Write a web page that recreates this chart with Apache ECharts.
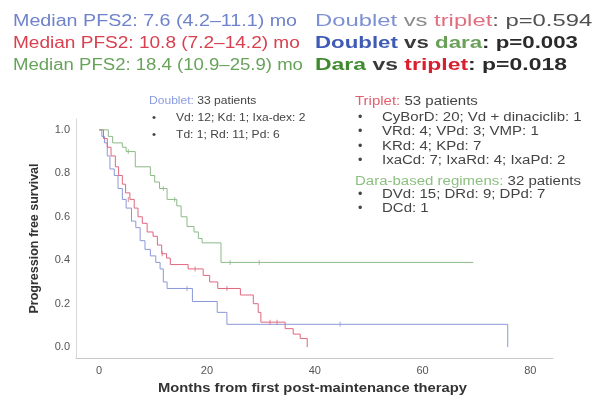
<!DOCTYPE html>
<html><head><meta charset="utf-8">
<script src="https://cdn.jsdelivr.net/npm/echarts@6/dist/echarts.min.js"></script>
<style>html,body{margin:0;padding:0;background:#fff}#c{width:594px;height:396px}</style>
</head><body><div id="c"></div>
<script>
// ---- data ----
const xTicks = [0, 20, 40, 60, 80];
const yTicks = [0, 0.2, 0.4, 0.6, 0.8, 1.0];

const doubletT = [0, 0.5, 1.0, 1.5, 2.0, 2.8, 3.5, 4.3, 5.0, 6.0, 6.8, 7.6, 8.5, 9.5, 10.5, 11.3, 11.9, 12.6, 17.3, 21.9, 23.7, 75.8];
const doubletS = [1.0, 0.97, 0.94, 0.88, 0.82, 0.79, 0.73, 0.68, 0.64, 0.58, 0.55, 0.49, 0.45, 0.42, 0.39, 0.36, 0.30, 0.27, 0.21, 0.16, 0.105, 0.0];
const doubletCensT = [16.3, 44.7];
const doubletCensS = [0.27, 0.105];

const tripletT = [0, 0.8, 1.5, 2.2, 3.0, 3.6, 4.3, 4.9, 5.7, 6.5, 7.2, 8.0, 8.9, 10.0, 10.8, 11.6, 12.5, 13.2, 16.5, 19.3, 20.5, 22.0, 26.2, 28.6, 29.5, 30.0, 34.5, 36.0, 37.3, 38.6];
const tripletS = [1.0, 0.96, 0.92, 0.88, 0.83, 0.79, 0.75, 0.71, 0.68, 0.64, 0.60, 0.57, 0.53, 0.51, 0.47, 0.43, 0.41, 0.38, 0.36, 0.33, 0.30, 0.27, 0.24, 0.20, 0.16, 0.115, 0.085, 0.06, 0.04, 0.0];
const tripletCensT = [5.4, 11.7, 17.8, 23.7, 31.7, 33.0];
const tripletCensS = [0.68, 0.43, 0.36, 0.27, 0.115, 0.115];

const daraT = [0, 1.7, 2.5, 4.3, 5.0, 6.7, 9.5, 10.3, 11.2, 12.6, 14.4, 15.2, 16.3, 17.6, 18.4, 19.1, 22.6, 69.4];
const daraS = [1.0, 0.97, 0.94, 0.92, 0.90, 0.83, 0.79, 0.76, 0.73, 0.68, 0.65, 0.60, 0.555, 0.53, 0.50, 0.48, 0.39, 0.39];
const daraCensT = [5.4, 11.9, 14.0, 24.3, 29.7];
const daraCensS = [0.90, 0.73, 0.68, 0.39, 0.39];

const medianLines = ['Median PFS2: 7.6 (4.2\u201311.1) mo', 'Median PFS2: 10.8 (7.2\u201314.2) mo', 'Median PFS2: 18.4 (10.9\u201325.9) mo'];
const doubletNotes = ['Vd: 12; Kd: 1; Ixa-dex: 2', 'Td: 1; Rd: 11; Pd: 6'];
const tripletNotes = ['CyBorD: 20; Vd + dinaciclib: 1', 'VRd: 4; VPd: 3; VMP: 1', 'KRd: 4; KPd: 7', 'IxaCd: 7; IxaRd: 4; IxaPd: 2'];
const daraNotes = ['DVd: 15; DRd: 9; DPd: 7', 'DCd: 1'];
const xTitle = 'Months from first post-maintenance therapy';
const yTitle = 'Progression free survival';

// ---- styles ----
const BLUE = '#8b98d8', RED = '#e0677e', GREEN = '#8cba88';
const TBLUE = '#6f82cc', TRED = '#d9404f', TGREEN = '#67a35a';
const FONT = 'Liberation Sans';
const zip = (a, b) => a.map((v, i) => [v, b[i]]);

function kmSeries(T, S, color) {
  return { type: 'line', step: 'end', data: zip(T, S), symbol: 'none', lineStyle: { color, width: 1 }, silent: true, z: 3 };
}
function censSeries(T, S, color) {
  return { type: 'scatter', data: zip(T, S), symbol: 'rect', symbolSize: [1, 5], itemStyle: { color }, silent: true, z: 4 };
}

const graphics = [];
const medColors = [TBLUE, TRED, TGREEN];
const medScale = [1.23, 1.19, 1.16];
medianLines.forEach((t, i) => graphics.push({ type: 'text', x: 13, y: 14 + i * 22, scaleX: medScale[i], style: { text: t, fill: medColors[i], font: '16px ' + FONT } }));

const pv = [
  { y: 13, bold: false, sx: 1.40, parts: [['Doublet', '#7d90d4'], [' vs ', '#8a8a8a'], ['triplet', '#e07080'], [': p=0.594', '#505050']] },
  { y: 35, bold: true, sx: 1.31, parts: [['Doublet', '#3f5bb5'], [' vs ', '#3a3a3a'], ['dara', '#6aa05a'], [': p=0.003', '#2a2a2a']] },
  { y: 57, bold: true, sx: 1.35, parts: [['Dara', '#3f8a2e'], [' vs ', '#3a3a3a'], ['triplet', '#d8202f'], [': p=0.018', '#2a2a2a']] }
];
pv.forEach(l => {
  const rich = {};
  let txt = '';
  l.parts.forEach((p, j) => { rich['p' + j] = { fill: p[1], fontFamily: FONT, fontSize: 17, fontWeight: l.bold ? 'bold' : 'normal' }; txt += '{p' + j + '|' + p[0] + '}'; });
  graphics.push({ type: 'text', x: 315, y: l.y, scaleX: l.sx, style: { text: txt, rich } });
});

function block(x, y, head, headColor, count, notes, dy, fs, sx) {
  graphics.push({ type: 'text', x: x, y: y - fs / 2, scaleX: sx, style: { text: '{h|' + head + '}{n|' + count + '}', rich: { h: { fill: headColor, fontSize: fs, fontFamily: FONT }, n: { fill: '#444', fontSize: fs, fontFamily: FONT } } } });
  notes.forEach((n, i) => {
    graphics.push({ type: 'text', x: x + 3, y: y + dy[i] - fs / 2, style: { text: '\u2022', fill: '#444', font: fs + 'px ' + FONT } });
    graphics.push({ type: 'text', x: x + 27, y: y + dy[i] - fs / 2, scaleX: sx, style: { text: n, fill: '#444', font: fs + 'px ' + FONT } });
  });
}
block(149, 101, 'Doublet:', '#8a9be0', ' 33 patients', doubletNotes, [17, 34], 11.5, 1.05);
block(355, 101, 'Triplet:', '#e06070', ' 53 patients', tripletNotes, [16, 30, 45, 59], 12.5, 1.2);
block(355, 181, 'Dara-based regimens:', '#8cc080', ' 32 patients', daraNotes, [13, 27], 12.5, 1.2);

graphics.push({ type: 'text', x: 158, y: 382, scaleX: 1.18, style: { text: xTitle, fill: '#333', font: 'bold 12.5px ' + FONT } });

const chart = echarts.init(document.getElementById('c'), null, { renderer: 'canvas' });
chart.setOption({
  animation: false,
  backgroundColor: '#fff',
  grid: { left: 76, right: 41, top: 119, bottom: 38, containLabel: false },
  xAxis: {
    type: 'value', min: -4.3, max: 84.2,
    axisLine: { show: true, onZero: false, lineStyle: { color: '#c8c8c8', width: 1 } },
    axisTick: { show: false },
    splitLine: { show: false },
    axisLabel: { customValues: xTicks, fontFamily: FONT, fontSize: 11, color: '#555', margin: 7 }
  },
  yAxis: {
    type: 'value', min: -0.05, max: 1.05,
    name: yTitle, nameLocation: 'middle', nameGap: 35, nameRotate: 90,
    nameTextStyle: { fontFamily: FONT, fontSize: 12.5, fontWeight: 'bold', color: '#333' },
    axisLine: { show: true, onZero: false, lineStyle: { color: '#d8d8d8', width: 1 } },
    axisTick: { show: false },
    splitLine: { show: false },
    axisLabel: { customValues: yTicks, formatter: v => v.toFixed(1), fontFamily: FONT, fontSize: 11, color: '#555', margin: 6 }
  },
  series: [
    kmSeries(doubletT, doubletS, BLUE),
    kmSeries(tripletT, tripletS, RED),
    kmSeries(daraT, daraS, GREEN),
    censSeries(doubletCensT, doubletCensS, BLUE),
    censSeries(tripletCensT, tripletCensS, RED),
    censSeries(daraCensT, daraCensS, GREEN)
  ],
  graphic: graphics
});
</script></body></html>
